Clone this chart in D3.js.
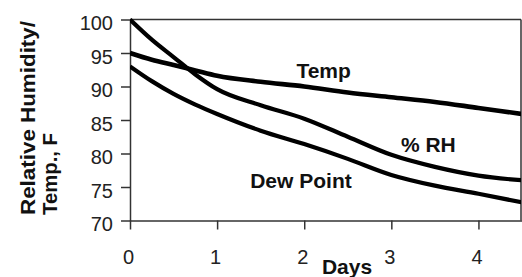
<!DOCTYPE html>
<html>
<head>
<meta charset="utf-8">
<script src="https://cdn.jsdelivr.net/npm/d3@7"></script>
<style>
  html, body { margin: 0; padding: 0; background: #fff; }
  svg { display: block; }
  text { font-family: "Liberation Sans", Arial, sans-serif; }
</style>
</head>
<body>
<svg id="chart" width="522" height="277"></svg>
<script>
const days = [0, 0.25, 0.5, 0.75, 1, 1.5, 2, 2.5, 3, 3.5, 4, 4.5];
const temp = [95, 94.0, 93.2, 92.4, 91.6, 90.7, 90.0, 89.1, 88.4, 87.7, 86.8, 85.9];
const rh = [100, 97.0, 94.4, 91.8, 89.6, 87.2, 85.2, 82.5, 79.8, 78.0, 76.7, 76.0];
const dew = [93, 90.8, 88.9, 87.3, 85.9, 83.4, 81.4, 79.2, 76.8, 75.2, 74.0, 72.7];
const xTicks = [0, 1, 2, 3, 4];
const yTicks = [70, 75, 80, 85, 90, 95, 100];
const seriesLabels = [
  {name: "Temp", x: 1.91, y: 91.25},
  {name: "% RH", x: 3.11, y: 80.25},
  {name: "Dew Point", x: 1.38, y: 74.85}
];

const svg = d3.select("#chart");
const mLeft = 130, mRight = 522, mTop = 19.5, mBottom = 220.5;
const x = d3.scaleLinear().domain([0, 4.5]).range([mLeft, mRight]);
const y = d3.scaleLinear().domain([70, 100]).range([mBottom, mTop]);

const axisColor = "#333";

// plot frame (top and right)
svg.append("line").attr("x1", mLeft).attr("x2", 521).attr("y1", mTop).attr("y2", mTop)
  .attr("stroke", axisColor).attr("stroke-width", 1.5);
svg.append("line").attr("x1", 521).attr("x2", 521).attr("y1", mTop).attr("y2", mBottom)
  .attr("stroke", axisColor).attr("stroke-width", 1.5);

// y axis
const yAxis = d3.axisLeft(y).tickValues(yTicks).tickFormat(d3.format("d"))
  .tickSize(9).tickPadding(8).tickSizeOuter(0);
const gy = svg.append("g").attr("transform", `translate(${mLeft},0)`).call(yAxis);
gy.select(".domain").attr("stroke", axisColor).attr("stroke-width", 1.5);
gy.selectAll(".tick line").attr("stroke", axisColor).attr("stroke-width", 1.5);
gy.selectAll(".tick text")
  .attr("font-size", 20).attr("fill", "#222")
  .attr("font-family", "Liberation Sans, Arial, sans-serif")
  .attr("dy", "0.52em");

// x axis
const xAxis = d3.axisBottom(x).tickValues(xTicks).tickFormat(d3.format("d"))
  .tickSize(9).tickPadding(20).tickSizeOuter(0);
const gx = svg.append("g").attr("transform", `translate(0,${mBottom})`).call(xAxis);
gx.select(".domain").attr("stroke", axisColor).attr("stroke-width", 1.5);
gx.selectAll(".tick line").attr("stroke", axisColor).attr("stroke-width", 1.5);
gx.selectAll(".tick text")
  .attr("font-size", 20).attr("fill", "#222")
  .attr("font-family", "Liberation Sans, Arial, sans-serif")
  .attr("dx", -2);

// lines
const line = d3.line().x((d, i) => x(days[i])).y(d => y(d)).curve(d3.curveMonotoneX);
svg.append("clipPath").attr("id", "clip")
  .append("rect").attr("x", mLeft).attr("y", 0).attr("width", 521 - mLeft).attr("height", mBottom);
[temp, rh, dew].forEach((s, k) => {
  svg.append("path").datum(s)
    .attr("d", line)
    .attr("fill", "none")
    .attr("stroke", "#000")
    .attr("stroke-width", k === 0 ? 4.6 : 4.2)
    .attr("stroke-linejoin", "round")
    .attr("clip-path", "url(#clip)");
});

// series labels
svg.selectAll(".slabel").data(seriesLabels).enter().append("text")
  .attr("class", "slabel")
  .attr("x", d => x(d.x)).attr("y", d => y(d.y))
  .attr("font-size", 21).attr("font-weight", "bold").attr("fill", "#111")
  .text(d => d.name);

// axis titles
svg.append("text")
  .attr("x", 347).attr("y", 274)
  .attr("text-anchor", "middle")
  .attr("font-size", 21).attr("font-weight", "bold").attr("fill", "#111")
  .text("Days");

svg.append("text")
  .attr("transform", "translate(35,215) rotate(-90)")
  .attr("font-size", 21).attr("font-weight", "bold").attr("fill", "#111")
  .attr("textLength", 194).attr("lengthAdjust", "spacingAndGlyphs")
  .text("Relative Humidity/");
svg.append("text")
  .attr("transform", "translate(57,215) rotate(-90)")
  .attr("font-size", 21).attr("font-weight", "bold").attr("fill", "#111")
  .attr("textLength", 82).attr("lengthAdjust", "spacingAndGlyphs")
  .text("Temp., F");
</script>
</body>
</html>
